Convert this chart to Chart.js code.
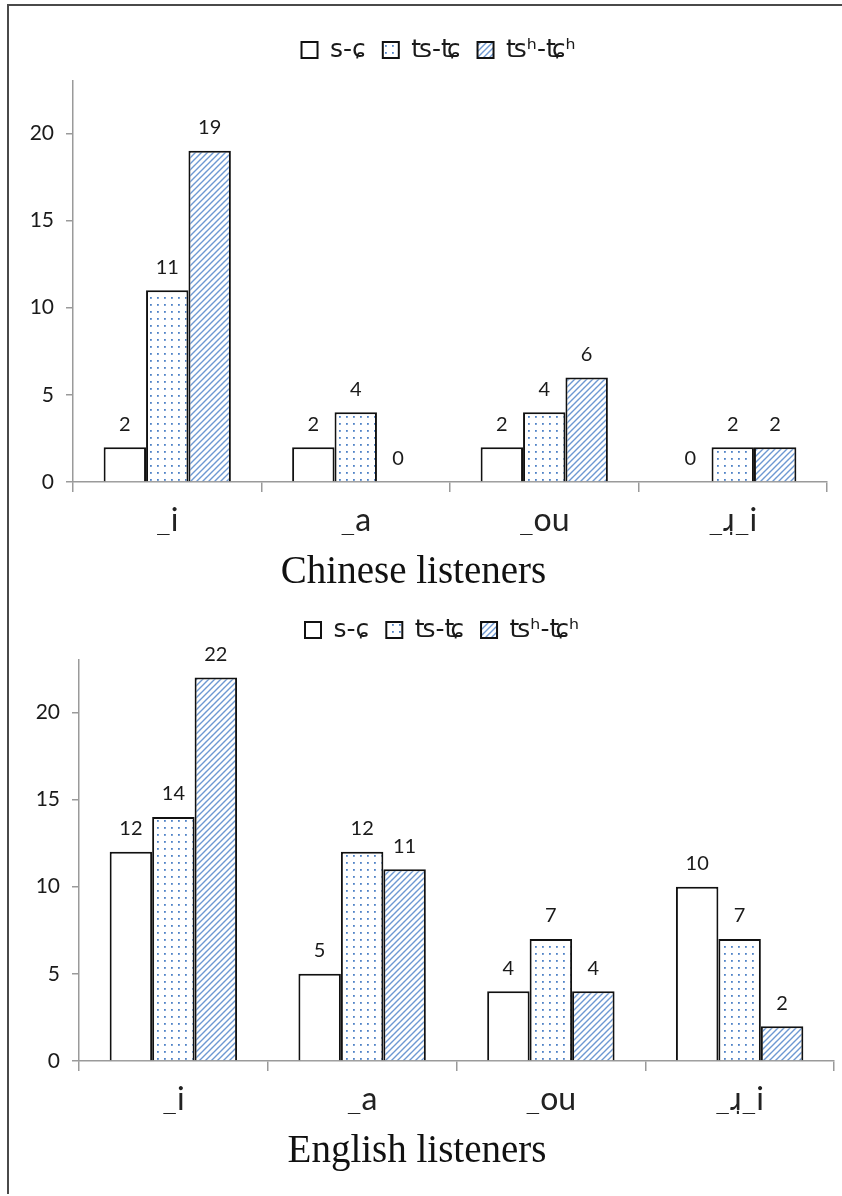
<!DOCTYPE html>
<html>
<head>
<meta charset="utf-8">
<script src="https://cdn.jsdelivr.net/npm/chart.js@4.4.1/dist/chart.umd.min.js"></script>
<style>
  html, body { margin: 0; padding: 0; background: #fff; }
  body { width: 842px; height: 1196px; position: relative; overflow: hidden; }
  #frame { position: absolute; left: 7px; top: 4px; width: 840px; height: 1188px;
           border-left: 2px solid #4a4a4a; border-top: 2px solid #4a4a4a; }
  .box { position: absolute; left: 0; width: 842px; }
  #wrap1 { top: 0; height: 600px; }
  #wrap2 { top: 600px; height: 596px; }
</style>
</head>
<body>
<div id="frame"></div>
<div class="box" id="wrap1"><canvas id="c1"></canvas></div>
<div class="box" id="wrap2"><canvas id="c2"></canvas></div>
<script>
// Categories (final vowel context) and legend labels
const categories = ['_i', '_a', '_ou', '_\u0279\u0329_i'];
const seriesNames = ['s-\u0255', '\u02A6-\u02A8', '\u02A6\u02B0-\u02A8\u02B0'];

// Chinese listeners
const chineseS    = [2, 2, 2, 0];
const chineseTs   = [11, 4, 4, 2];
const chineseTsh  = [19, 0, 6, 2];

// English listeners
const englishS    = [12, 5, 4, 10];
const englishTs   = [14, 12, 7, 7];
const englishTsh  = [22, 11, 4, 2];

const yTicks = [0, 5, 10, 15, 20];
const yMax = 23;

const SANS = "Lato, 'DejaVu Sans', sans-serif";
const LEGEND_FONT = "'DejaVu Sans', sans-serif";
const SERIF = "'Liberation Serif', 'DejaVu Serif', serif";

function makeDots() {
  const c = document.createElement('canvas');
  c.width = 7; c.height = 7;
  const g = c.getContext('2d');
  g.fillStyle = '#ffffff'; g.fillRect(0, 0, 7, 7);
  g.fillStyle = '#4f82c6';
  g.fillRect(3, 3, 1.8, 1.8);
  return g.createPattern(c, 'repeat');
}
function makeHatch() {
  const s = 6;
  const c = document.createElement('canvas');
  c.width = s; c.height = s;
  const g = c.getContext('2d');
  g.fillStyle = '#ffffff'; g.fillRect(0, 0, s, s);
  g.strokeStyle = '#6d98d2';
  g.lineWidth = 1.4;
  g.beginPath();
  g.moveTo(-1, s + 1); g.lineTo(s + 1, -1);
  g.moveTo(-1, 1); g.lineTo(1, -1);
  g.moveTo(s - 1, s + 1); g.lineTo(s + 1, s - 1);
  g.stroke();
  return g.createPattern(c, 'repeat');
}
const fills = ['#ffffff', makeDots(), makeHatch()];

// Writes each bar's value above it
const valueLabels = {
  id: 'valueLabels',
  afterDatasetsDraw(chart) {
    const ctx = chart.ctx;
    ctx.save();
    ctx.font = '20px ' + SANS;
    ctx.fillStyle = '#1a1a1a';
    ctx.textAlign = 'center';
    ctx.textBaseline = 'middle';
    chart.data.datasets.forEach((ds, i) => {
      chart.getDatasetMeta(i).data.forEach((el, j) => {
        ctx.fillText(String(ds.data[j]), el.x, el.y - 23);
      });
    });
    ctx.restore();
  }
};

function legendTweak(extraHeight, shiftX) {
  return {
    id: 'legendTweak',
    afterInit(chart) {
      const lg = chart.legend;
      if (!lg) return;
      const fit = lg.fit;
      lg.fit = function () { fit.call(this); this.height += extraHeight; };
      const draw = lg.draw;
      lg.draw = function () {
        const ctx = this.ctx;
        ctx.save(); ctx.translate(shiftX, 0); draw.call(this); ctx.restore();
      };
    }
  };
}

function build(id, values, cfg) {
  const xAxisH = 53;
  const titleSize = 39;
  const titlePadTop = 14;
  const titleH = titleSize * 1.2 + titlePadTop;
  const bottomPad = cfg.height - cfg.areaBottom - xAxisH - titleH;
  const ctx = document.getElementById(id);
  ctx.width = 842; ctx.height = cfg.height;
  return new Chart(ctx, {
    type: 'bar',
    data: {
      labels: categories,
      datasets: seriesNames.map((name, i) => ({
        label: name,
        data: values[i],
        backgroundColor: fills[i],
        borderColor: '#111',
        borderWidth: 2,
        categoryPercentage: 0.675,
        barPercentage: 1.0
      }))
    },
    options: {
      responsive: false,
      animation: false,
      devicePixelRatio: 1,
      layout: { padding: { top: cfg.padTop, bottom: bottomPad, left: 0, right: cfg.padRight } },
      plugins: {
        legend: {
          position: 'top',
          labels: {
            font: { family: LEGEND_FONT, size: 25 },
            color: '#1a1a1a',
            boxWidth: 16, boxHeight: 16,
            padding: 17
          }
        },
        title: {
          display: true,
          position: 'bottom',
          text: cfg.title,
          color: '#111',
          font: { family: SERIF, size: titleSize, weight: 'normal' },
          padding: { top: titlePadTop, bottom: 0 }
        },
        tooltip: { enabled: false }
      },
      scales: {
        x: {
          afterFit(s) { s.height = xAxisH; },
          grid: { display: true, drawOnChartArea: false, offset: true, tickLength: 10, color: '#9a9a9a', lineWidth: 1.5 },
          border: { color: '#9a9a9a', width: 1.5 },
          ticks: { font: { family: SANS, size: 32 }, color: '#222', padding: 9 }
        },
        y: {
          min: 0, max: yMax,
          afterFit(s) { s.width = cfg.axisLeft; },
          afterBuildTicks(s) { s.ticks = yTicks.map(v => ({ value: v })); },
          grid: { display: true, drawOnChartArea: false, tickLength: 7, color: '#9a9a9a', lineWidth: 1.5 },
          border: { color: '#9a9a9a', width: 1.5 },
          ticks: { font: { family: SANS, size: 21 }, color: '#1a1a1a', padding: 12 }
        }
      }
    },
    plugins: [valueLabels, legendTweak(cfg.legendExtra, 25)]
  });
}

build('c1', [chineseS, chineseTs, chineseTsh], {
  height: 600, areaBottom: 482, padTop: 20.5, legendExtra: 8.5, axisLeft: 73, padRight: 15,
  title: 'Chinese listeners'
});
build('c2', [englishS, englishTs, englishTsh], {
  height: 596, areaBottom: 461, padTop: 0.5, legendExtra: 7.5, axisLeft: 79, padRight: 8,
  title: 'English listeners'
});
</script>
</body>
</html>
